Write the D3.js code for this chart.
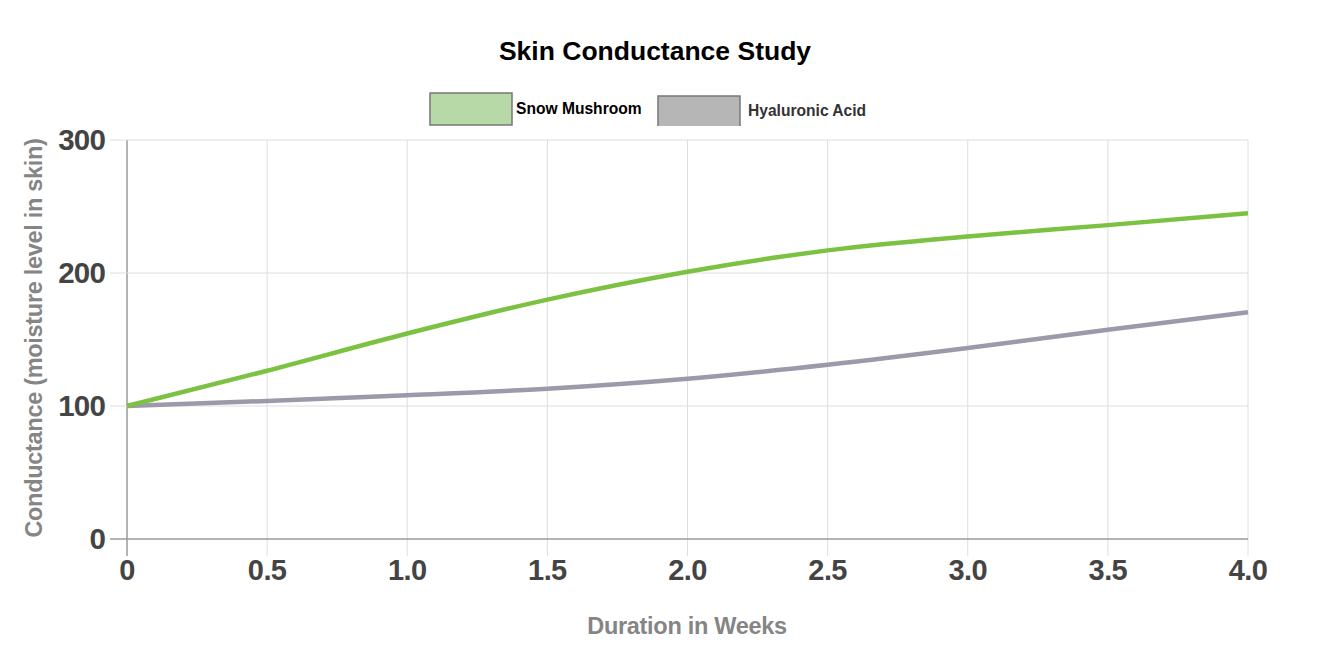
<!DOCTYPE html>
<html><head><meta charset="utf-8">
<script src="https://cdn.jsdelivr.net/npm/d3@7"></script>
<style>body{margin:0;background:#fff;}svg{display:block;font-family:"Liberation Sans",Arial,sans-serif;}</style>
</head><body><svg id="c" width="1322" height="670"></svg>
<script>
const weeks = [0, 0.5, 1.0, 1.5, 2.0, 2.5, 3.0, 3.5, 4.0];
const snowMushroom = [100, 126.5, 154.5, 180, 201, 217, 227.5, 236, 245];
const hyaluronicAcid = [100, 103.8, 108, 113, 120.5, 131, 143.6, 157.3, 170.5];
const xTicks = [0, 0.5, 1.0, 1.5, 2.0, 2.5, 3.0, 3.5, 4.0];
const xTickLabels = ["0","0.5","1.0","1.5","2.0","2.5","3.0","3.5","4.0"];
const yTicks = [0, 100, 200, 300];
const seriesNames = ["Snow Mushroom", "Hyaluronic Acid"];

const svg = d3.select("#c");
const x = d3.scaleLinear().domain([0, 4]).range([127, 1248]);
const y = d3.scaleLinear().domain([0, 300]).range([539, 140]);

// grid
svg.selectAll(".vg").data(xTicks).join("line")
  .attr("x1", d => x(d)).attr("x2", d => x(d))
  .attr("y1", y(300)).attr("y2", 556)
  .attr("stroke", d => d === 0 ? "#9a9a9a" : "#dedede").attr("stroke-width", d => d === 0 ? 1.5 : 1);
svg.selectAll(".hg").data(yTicks).join("line")
  .attr("x1", 110).attr("x2", x(4))
  .attr("y1", d => y(d)).attr("y2", d => y(d))
  .attr("stroke", d => d === 0 ? "#9a9a9a" : "#dedede").attr("stroke-width", d => d === 0 ? 1.5 : 1);

// tick labels
svg.selectAll(".yl").data(yTicks).join("text")
  .attr("x", 105).attr("y", d => y(d) + 9.5)
  .attr("text-anchor", "end").attr("font-size", 29.5).attr("font-weight", "bold")
  .attr("fill", "#444").attr("letter-spacing", "-0.8").text(d => d);
svg.selectAll(".xl").data(xTicks).join("text")
  .attr("x", d => x(d)).attr("y", 580)
  .attr("text-anchor", "middle").attr("font-size", 29).attr("font-weight", "bold")
  .attr("fill", "#444").attr("letter-spacing", "-0.6").text((d, i) => xTickLabels[i]);

// axis titles
svg.append("text").attr("x", 687).attr("y", 634).attr("text-anchor", "middle")
  .attr("font-size", 23.5).attr("font-weight", "bold").attr("fill", "#858585")
  .attr("letter-spacing", "-0.3").text("Duration in Weeks");
svg.append("text").attr("transform", "translate(42,338) rotate(-90)").attr("text-anchor", "middle")
  .attr("font-size", 23.5).attr("font-weight", "bold").attr("fill", "#858585")
  .attr("letter-spacing", "-0.3").text("Conductance (moisture level in skin)");

// lines
const line = d3.line().x((d, i) => x(weeks[i])).y(d => y(d)).curve(d3.curveMonotoneX);
svg.append("path").datum(hyaluronicAcid).attr("d", line)
  .attr("fill", "none").attr("stroke", "#9d99aa").attr("stroke-width", 4.5);
svg.append("path").datum(snowMushroom).attr("d", line)
  .attr("fill", "none").attr("stroke", "#7cc242").attr("stroke-width", 4.5);

// title
svg.append("text").attr("x", 655).attr("y", 60).attr("text-anchor", "middle")
  .attr("font-size", 26.5).attr("font-weight", "bold").attr("fill", "#000")
  .text("Skin Conductance Study");

// legend
svg.append("rect").attr("x", 430).attr("y", 93).attr("width", 82).attr("height", 32)
  .attr("fill", "#b6d9a7").attr("stroke", "#777").attr("stroke-width", 1.5);
svg.append("text").attr("x", 516).attr("y", 114).attr("font-size", 15.6).attr("font-weight", "bold")
  .attr("fill", "#000").text(seriesNames[0]);
svg.append("rect").attr("x", 658).attr("y", 96).attr("width", 82).attr("height", 32)
  .attr("fill", "#b6b6b6").attr("stroke", "#777").attr("stroke-width", 1.5);
svg.append("rect").attr("x", 656).attr("y", 126).attr("width", 86).attr("height", 4).attr("fill", "#fff");
svg.append("text").attr("x", 748).attr("y", 116).attr("font-size", 15.6).attr("font-weight", "bold")
  .attr("fill", "#333").text(seriesNames[1]);
</script></body></html>
